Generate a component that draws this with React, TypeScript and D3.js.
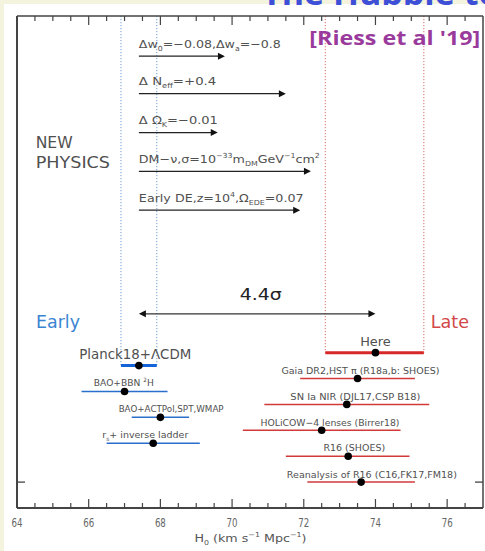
import React from 'react';
import * as d3 from 'd3';

const W = 485;
const H = 551;

// ---------- data ----------
const xTickValues = [64, 66, 68, 70, 72, 74, 76];
const xMinorStep = 0.5;
const yTickRows = [5];

const earlyNames = ['Planck18+ΛCDM', 'BAO+BBN  ^{2}H', 'BAO+ACTPol,SPT,WMAP', 'r_{s}+ inverse ladder'];
const earlyH0 = [67.4, 67.0, 68.0, 67.8];
const earlyLo = [66.9, 65.8, 67.2, 66.5];
const earlyHi = [67.9, 68.2, 68.8, 69.1];
const earlyRow = [0.5, 1.5, 2.5, 3.5];
const earlyLabelAt = [67.3, 66.98, 68.3, 67.58];

const lateNames = [
  'Here',
  'Gaia DR2,HST π (R18a,b: SHOES)',
  'SN Ia NIR (DJL17,CSP B18)',
  'HOLiCOW−4 lenses (Birrer18)',
  'R16 (SHOES)',
  'Reanalysis of R16 (C16,FK17,FM18)',
];
const lateH0 = [74.0, 73.5, 73.2, 72.5, 73.24, 73.6];
const lateLo = [72.6, 71.9, 70.9, 70.3, 71.5, 72.1];
const lateHi = [75.35, 75.1, 75.5, 74.7, 74.95, 75.1];
const lateRow = [0, 1, 2, 3, 4, 5];
const lateLabelAt = [74.0, 73.58, 73.44, 72.73, 73.41, 73.9];

const physicsLabels = [
  'Δw_{0}=−0.08,Δw_{a}=−0.8',
  'Δ  N_{eff}=+0.4',
  'Δ  Ω_{K}=−0.01',
  'DM−ν,σ=10^{−33}m_{DM}GeV^{−1}cm^{2}',
  'Early  DE,z=10^{4},Ω_{EDE}=0.07',
];
const physicsFrom = 67.4;
const physicsTo = [69.8, 71.5, 69.6, 72.2, 71.9];
const physicsRow = [-11.45, -10, -8.5, -7, -5.5];

const tensionLabel = '4.4σ';
const tensionFrom = 67.4;
const tensionTo = 74.0;
const tensionRow = -1.5;
const tensionLabelAt = 70.8;

// ---------- layout (not data) ----------
const M = { left: 17, right: 483, top: 16, bottom: 508 };
const earlyStyle = [
  { fs: 14, w: 112, dy: -7 },
  { fs: 9.5, w: 60, dy: -5 },
  { fs: 9.5, w: 105, dy: -5 },
  { fs: 9.5, w: 86, dy: -5 },
];
const lateStyle = [
  { fs: 13, w: 30.6, dy: -7 },
  { fs: 9.5, w: 158, dy: -4.5 },
  { fs: 9.5, w: 130, dy: -4.5 },
  { fs: 9.5, w: 139, dy: -4.5 },
  { fs: 9.5, w: 61.7, dy: -5 },
  { fs: 9.5, w: 170, dy: -4.5 },
];
const physicsWidths = [142, 77.4, 79, 181, 164.7];

const FONT = '"DejaVu Sans", sans-serif';
const BLUE = '#2a6fcc';
const BLUE_THICK = '#1463d8';
const RED = '#d23a3a';
const RED_THICK = '#d62828';
const TEXT = '#505050';

function rich(s: string, fs: number) {
  const re = /([_^])\{([^}]*)\}|([^_^]+)/g;
  const out: any[] = [];
  let shift = 0;
  let m: RegExpExecArray | null;
  let i = 0;
  while ((m = re.exec(s)) !== null) {
    let target = 0;
    let size = fs;
    let txt = m[3];
    if (m[1] === '_') {
      target = 0.3 * fs;
      size = 0.62 * fs;
      txt = m[2];
    } else if (m[1] === '^') {
      target = -0.42 * fs;
      size = 0.62 * fs;
      txt = m[2];
    }
    out.push(
      <tspan key={i++} dy={target - shift} fontSize={size}>
        {txt}
      </tspan>
    );
    shift = target;
  }
  return out;
}

export default function App() {
  const x = d3.scaleLinear().domain([64, 77]).range([M.left, M.right]);
  const y = d3.scaleLinear().domain([-13, 6]).range([M.top, M.bottom]);

  const minorTicks = d3.range(64, 77.001, xMinorStep);
  const majorSet = new Set(xTickValues);

  const arrowHead = (tipX: number, yy: number, dir: number) => {
    const L = 7, hw = 3.5;
    return `M${tipX},${yy} L${tipX - dir * L},${yy - hw} L${tipX - dir * L},${yy + hw} Z`;
  };

  const planckY = y(earlyRow[0]);
  const hereY = y(lateRow[0]);

  return (
    <svg
      width={W}
      height={H}
      style={{ position: 'absolute', left: 0, top: 0, display: 'block' }}
      fontFamily={FONT}
    >
      <rect x={0} y={0} width={W} height={H} fill="#f4f3dd" />
      <rect x={4} y={4} width={W - 4} height={H - 4} fill="#ffffff" />
      <text x={262} y={5} fontSize={34} fontWeight="bold" fill="#3c4fd6" fontFamily='"Open Sans", sans-serif'>
        The Hubble tension
      </text>

      {/* dotted range lines */}
      {[earlyLo[0], earlyHi[0]].map((v, i) => (
        <line key={'bd' + i} x1={x(v)} x2={x(v)} y1={M.top} y2={planckY} stroke="#6f9fd4" strokeWidth={1} strokeDasharray="1.2,1.8" />
      ))}
      {[lateLo[0], lateHi[0]].map((v, i) => (
        <line key={'rd' + i} x1={x(v)} x2={x(v)} y1={M.top} y2={hereY} stroke="#d86a6a" strokeWidth={1} strokeDasharray="1.2,1.8" />
      ))}

      {/* frame */}
      <line x1={M.left} x2={M.left} y1={M.top} y2={M.bottom} stroke="#444" strokeWidth={2} />
      <line x1={M.right} x2={M.right} y1={M.top} y2={M.bottom} stroke="#444" strokeWidth={1.5} />
      <line x1={M.left} x2={M.right} y1={M.top} y2={M.top} stroke="#444" strokeWidth={1.3} />
      <line x1={M.left} x2={M.right} y1={M.bottom} y2={M.bottom} stroke="#444" strokeWidth={1.8} />

      {minorTicks.map((v, i) => {
        const len = majorSet.has(Math.round(v * 100) / 100) ? 9 : 5;
        if (v <= 64 || v >= 77) return null;
        return (
          <g key={'t' + i}>
            <line x1={x(v)} x2={x(v)} y1={M.bottom} y2={M.bottom - len} stroke="#444" strokeWidth={1.2} />
            <line x1={x(v)} x2={x(v)} y1={M.top} y2={M.top + len} stroke="#444" strokeWidth={1.2} />
          </g>
        );
      })}
      {yTickRows.map((r, i) => (
        <g key={'yt' + i}>
          <line x1={M.left} x2={M.left + 8} y1={y(r)} y2={y(r)} stroke="#444" strokeWidth={1.3} />
          <line x1={M.right} x2={M.right - 8} y1={y(r)} y2={y(r)} stroke="#444" strokeWidth={1.3} />
        </g>
      ))}
      {xTickValues.map((v) => (
        <text key={'xl' + v} x={x(v)} y={527} textAnchor="middle" fontSize={11.5} fill="#666" textLength={11} lengthAdjust="spacingAndGlyphs">
          {v}
        </text>
      ))}
      <text x={250.5} y={541.5} textAnchor="middle" fontSize={11} fill="#555" textLength={112} lengthAdjust="spacingAndGlyphs">
        {rich('H_{0} (km s^{−1} Mpc^{−1})', 11)}
      </text>

      {/* header texts */}
      <text x={309.3} y={45} fontSize={20} fontWeight="bold" fill="#993a9c" fontFamily='"Open Sans", sans-serif' textLength={171} lengthAdjust="spacingAndGlyphs">
        [Riess et al '19]
      </text>
      <text x={35.7} y={148.3} fontSize={16} fill={TEXT} textLength={37} lengthAdjust="spacingAndGlyphs">NEW</text>
      <text x={35.7} y={168.3} fontSize={16} fill={TEXT} textLength={74.3} lengthAdjust="spacingAndGlyphs">PHYSICS</text>
      <text x={36} y={328} fontSize={17.5} fill="#3a84d2" textLength={44} lengthAdjust="spacingAndGlyphs">Early</text>
      <text x={430.7} y={327.7} fontSize={17.5} fill="#d24848" textLength={38.3} lengthAdjust="spacingAndGlyphs">Late</text>

      {/* new physics arrows */}
      {physicsLabels.map((lab, i) => {
        const yy = y(physicsRow[i]);
        const x0 = x(physicsFrom);
        const x1 = x(physicsTo[i]);
        return (
          <g key={'ph' + i}>
            <line x1={x0} x2={x1 - 5} y1={yy} y2={yy} stroke="#222" strokeWidth={1.3} />
            <path d={arrowHead(x1, yy, 1)} fill="#111" />
            <text x={x0} y={yy - 8.6} fontSize={11.2} fill={TEXT} textLength={physicsWidths[i]} lengthAdjust="spacingAndGlyphs">
              {rich(lab, 11.2)}
            </text>
          </g>
        );
      })}

      {/* tension arrow */}
      {(() => {
        const yy = y(tensionRow);
        const x0 = x(tensionFrom);
        const x1 = x(tensionTo);
        return (
          <g>
            <line x1={x0 + 5} x2={x1 - 5} y1={yy} y2={yy} stroke="#333" strokeWidth={1.3} />
            <path d={arrowHead(x0, yy, -1)} fill="#111" />
            <path d={arrowHead(x1, yy, 1)} fill="#111" />
            <text x={x(tensionLabelAt)} y={yy - 14} textAnchor="middle" fontSize={16} fill="#222" textLength={42} lengthAdjust="spacingAndGlyphs">
              {tensionLabel}
            </text>
          </g>
        );
      })()}

      {/* early measurements */}
      {earlyNames.map((nm, i) => {
        const yy = y(earlyRow[i]);
        const st = earlyStyle[i];
        return (
          <g key={'e' + i}>
            <line x1={x(earlyLo[i])} x2={x(earlyHi[i])} y1={yy} y2={yy} stroke={i === 0 ? BLUE_THICK : BLUE} strokeWidth={i === 0 ? 3 : 1.5} />
            <circle cx={x(earlyH0[i])} cy={yy} r={3.8} fill="#000" />
            <text x={x(earlyLabelAt[i])} y={yy + st.dy} textAnchor="middle" fontSize={st.fs} fill={TEXT} textLength={st.w} lengthAdjust="spacingAndGlyphs">
              {rich(nm, st.fs)}
            </text>
          </g>
        );
      })}

      {/* late measurements */}
      {lateNames.map((nm, i) => {
        const yy = y(lateRow[i]);
        const st = lateStyle[i];
        return (
          <g key={'l' + i}>
            <line x1={x(lateLo[i])} x2={x(lateHi[i])} y1={yy} y2={yy} stroke={i === 0 ? RED_THICK : RED} strokeWidth={i === 0 ? 3 : 1.5} />
            <circle cx={x(lateH0[i])} cy={yy} r={3.8} fill="#000" />
            <text x={x(lateLabelAt[i])} y={yy + st.dy} textAnchor="middle" fontSize={st.fs} fill={TEXT} textLength={st.w} lengthAdjust="spacingAndGlyphs">
              {rich(nm, st.fs)}
            </text>
          </g>
        );
      })}
    </svg>
  );
}
